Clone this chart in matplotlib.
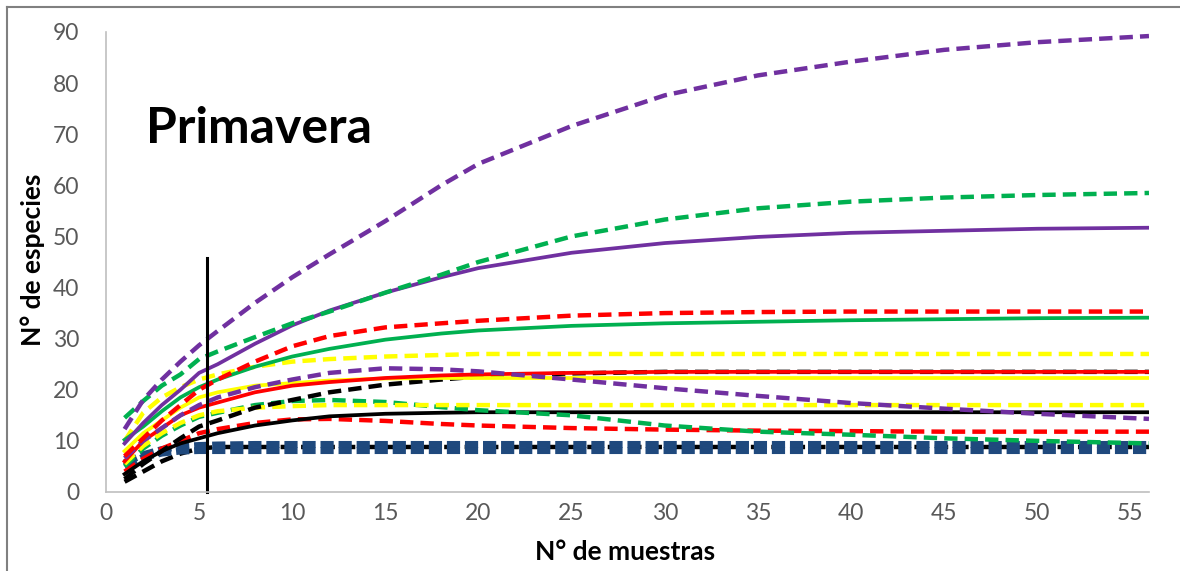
import matplotlib
matplotlib.use("Agg")
import matplotlib.pyplot as plt
from matplotlib.lines import Line2D

plt.rcParams['font.family'] = ['Lato', 'DejaVu Sans']

# sample sizes where species counts were read
muestras = [1, 2, 3, 4, 5, 6, 8, 10, 12, 15, 18, 20, 25, 30, 35, 40, 45, 50, 56]

purple_dash_hi = [12.3, 18, 22, 25.5, 28.7, 31.5, 37, 42, 46.5, 53, 60, 64.2, 71.6, 77.6, 81.5, 84.2, 86.5, 88, 89.2]
green_dash_hi = [14.5, 17.8, 20.8, 23, 26, 27.5, 30.3, 33, 35.3, 39, 42.5, 45, 50, 53.3, 55.5, 56.8, 57.6, 58.1, 58.5]
purple_solid = [9.5, 13.5, 17, 20, 23.3, 25, 29, 32.6, 35.5, 39, 42, 43.8, 46.8, 48.7, 49.9, 50.7, 51.1, 51.5, 51.7]
red_dash_hi = [7, 10.5, 14, 17, 20, 22, 25.5, 28.5, 30.5, 32.2, 33, 33.5, 34.5, 35, 35.2, 35.3, 35.3, 35.3, 35.3]
green_solid = [10.2, 12.8, 15.8, 18.5, 20.5, 22, 24.5, 26.5, 28, 29.8, 31, 31.6, 32.5, 33, 33.3, 33.6, 33.8, 34, 34.1]
yellow_dash_hi = [10, 15.5, 18.5, 20.5, 22, 23, 24.5, 25.5, 26, 26.5, 26.8, 27, 27, 27, 27, 27, 27, 27, 27]
yellow_solid = [8, 11.5, 14, 16.5, 18.5, 19.5, 20.8, 21.3, 21.8, 22.2, 22.3, 22.3, 22.3, 22.3, 22.3, 22.3, 22.3, 22.3, 22.3]
red_solid = [6, 10, 12.5, 15, 16.5, 17.5, 19.5, 20.8, 21.5, 22.3, 22.8, 23, 23.3, 23.5, 23.5, 23.5, 23.5, 23.5, 23.5]
purple_dash_mid = [6.6, 10, 12.5, 15, 17, 18.5, 20.5, 22, 23.3, 24.2, 24, 23.6, 22, 20.3, 18.8, 17.4, 16.3, 15.3, 14.3]
yellow_dash_lo = [5.5, 9, 11.5, 13.5, 15, 15.8, 16.5, 16.8, 17, 17, 17, 17, 17, 17, 17, 17, 17, 17, 17]
green_dash_lo = [5, 8.5, 11, 13, 14.7, 15.5, 17, 17.8, 18, 17.6, 16.6, 16, 15, 13, 11.8, 11.2, 10.5, 10, 9.5]
black_solid = [3.5, 6, 8, 9.5, 10.5, 11.5, 13, 14, 14.8, 15.3, 15.5, 15.6, 15.6, 15.6, 15.6, 15.6, 15.6, 15.6, 15.6]
red_dash_lo = [4, 6.5, 8.5, 10, 11.5, 12.3, 13.5, 14.2, 14.3, 13.9, 13.3, 13, 12.5, 12.2, 12, 11.9, 11.8, 11.8, 11.8]
black_dash_hi = [2.5, 5.5, 8, 10.5, 12.8, 14, 16.5, 18, 19.5, 21, 22, 22.6, 23.2, 23.5, 23.5, 23.5, 23.5, 23.5, 23.5]
black_dash_lo = [2, 4, 6, 7.5, 8.5, 8.8, 8.8, 8.8, 8.8, 8.8, 8.8, 8.8, 8.8, 8.8, 8.8, 8.8, 8.8, 8.8, 8.8]
blue_hi = [5.7, 7.3, 8.3, 8.9, 9.1, 9.2, 9.3, 9.3, 9.3, 9.3, 9.3, 9.3, 9.3, 9.3, 9.3, 9.3, 9.3, 9.3, 9.3]
blue_lo = [5, 6.8, 7.6, 8, 8.1, 8.1, 8.1, 8.1, 8.1, 8.1, 8.1, 8.1, 8.1, 8.1, 8.1, 8.1, 8.1, 8.1, 8.1]

corte_x = 5.4
corte_top = 45.8

PURPLE = '#7030A0'
GREEN = '#00B050'
RED = '#FF0000'
YELLOW = '#FFFF00'
BLACK = '#000000'
BLUE = '#1F497D'

DASH = (3.0, 1.6)

fig = plt.figure(figsize=(11.8, 5.71), dpi=100)
ax = fig.add_axes([0.0898, 0.1384, 0.8839, 0.8056])

def dashed(y, c):
    ax.plot(muestras, y, color=c, lw=3.2, dashes=DASH, solid_capstyle='butt')

def solid(y, c):
    ax.plot(muestras, y, color=c, lw=2.7)

dashed(black_dash_lo, BLACK)
ax.plot(muestras, blue_lo, color=BLUE, lw=5, dashes=(1.9, 0.7))
ax.plot(muestras, blue_hi, color=BLUE, lw=5, dashes=(1.9, 0.7))
dashed(red_dash_lo, RED)
solid(black_solid, BLACK)
dashed(green_dash_lo, GREEN)
dashed(yellow_dash_lo, YELLOW)
dashed(black_dash_hi, BLACK)
solid(yellow_solid, YELLOW)
solid(red_solid, RED)
dashed(purple_dash_mid, PURPLE)
dashed(yellow_dash_hi, YELLOW)
solid(green_solid, GREEN)
dashed(red_dash_hi, RED)
solid(purple_solid, PURPLE)
dashed(green_dash_hi, GREEN)
dashed(purple_dash_hi, PURPLE)

ax.plot([corte_x, corte_x], [0, corte_top], color=BLACK, lw=2.2, clip_on=False)

ax.set_xlim(0, 56)
ax.set_ylim(0, 90)
ax.set_xticks(range(0, 56, 5))
ax.set_yticks(range(0, 91, 10))
ax.tick_params(length=0, labelsize=16.5, colors='#595959')
ax.tick_params(axis='y', pad=19)
ax.tick_params(axis='x', pad=8)
for s in ['top', 'right']:
    ax.spines[s].set_visible(False)
for s in ['left', 'bottom']:
    ax.spines[s].set_color('#BFBFBF')
    ax.spines[s].set_linewidth(1.2)

ax.text(8.2, 71.2, 'Primavera', fontsize=36, fontweight='bold', ha='center', va='center')

fig.text(0.028, 0.545, 'N° de especies', rotation=90, fontsize=19, fontweight='bold',
         ha='center', va='center')
fig.text(0.53, 0.033, 'N° de muestras', fontsize=19, fontweight='bold',
         ha='center', va='center')

# chart frame
fig.add_artist(Line2D([0.006, 1.0], [0.988, 0.988], color='#808080', lw=1.5))
fig.add_artist(Line2D([0.006, 0.006], [0.0, 0.988], color='#808080', lw=1.5))

fig.savefig('out.png', dpi=100)
